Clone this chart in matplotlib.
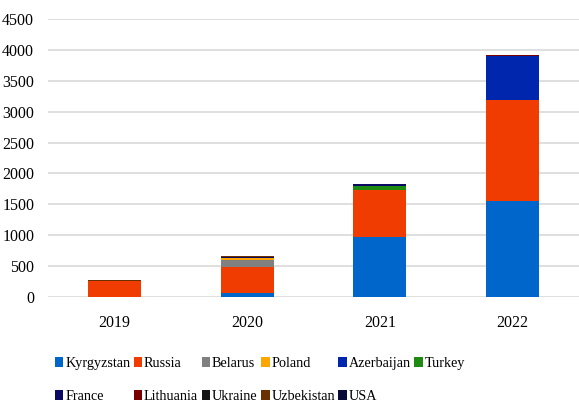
import matplotlib
matplotlib.use("Agg")
import matplotlib.pyplot as plt
from matplotlib.patches import Patch
from matplotlib.font_manager import FontProperties
import numpy as np

years = ["2019", "2020", "2021", "2022"]
countries = ["Kyrgyzstan", "Russia", "Belarus", "Poland", "Azerbaijan", "Turkey",
             "France", "Lithuania", "Ukraine", "Uzbekistan", "USA"]
kyrgyzstan = [0, 60, 975, 1555]
russia = [252, 418, 760, 1632]
belarus = [0, 118, 0, 0]
poland = [0, 30, 0, 0]
azerbaijan = [0, 0, 0, 708]
turkey = [0, 0, 55, 0]
france = [0, 27, 30, 0]
lithuania = [0, 0, 0, 22]
ukraine = [0, 0, 0, 0]
uzbekistan = [28, 12, 0, 0]
usa = [0, 0, 0, 0]
yticks = [0, 500, 1000, 1500, 2000, 2500, 3000, 3500, 4000, 4500]

series = [kyrgyzstan, russia, belarus, poland, azerbaijan, turkey,
          france, lithuania, ukraine, uzbekistan, usa]
colors = ["#0066cc", "#f03c00", "#808080", "#ffa500", "#0026ad", "#1f8a12",
          "#0a0a64", "#7a0000", "#151515", "#6b3000", "#0a0a3a"]

plt.rcParams['font.family'] = ['Liberation Serif', 'DejaVu Serif']

fig = plt.figure(figsize=(5.79, 4.05), dpi=100)
ax = fig.add_axes([0.083, 0.267, 0.917, 0.686])

x = np.arange(len(years))
bottom = np.zeros(len(years))
for name, vals, c in zip(countries, series, colors):
    v = np.array(vals, dtype=float)
    ax.bar(x, v, bottom=bottom, width=0.4, color=c, label=name, zorder=3)
    bottom += v

ax.set_xlim(-0.5, 3.5)
ax.set_ylim(0, 4500)
ax.set_yticks(yticks)
ax.set_yticklabels([str(t) for t in yticks], fontsize=11.5, family='Liberation Serif')
ax.set_xticks(x)
ax.set_xticklabels(years, fontsize=11.5, family='Liberation Serif')
ax.tick_params(axis='both', length=0)
ax.tick_params(axis='y', pad=10)
ax.tick_params(axis='x', pad=13)
ax.grid(axis='y', color='#d9d9d9', linewidth=1.2, zorder=0)
for s in ax.spines.values():
    s.set_visible(False)

handles = [Patch(facecolor=c) for c in colors]
order = [0, 6, 1, 7, 2, 8, 3, 9, 4, 10, 5]
fp = FontProperties(family='Liberation Serif', size=10.2)
fig.legend([handles[i] for i in order], [countries[i] for i in order],
           ncol=6, loc='center', bbox_to_anchor=(0.449, 0.062), frameon=False,
           prop=fp, handlelength=0.6, handleheight=0.7, handletextpad=0.12,
           columnspacing=0.25, labelspacing=1.4)

fig.savefig("out.png", dpi=100)
